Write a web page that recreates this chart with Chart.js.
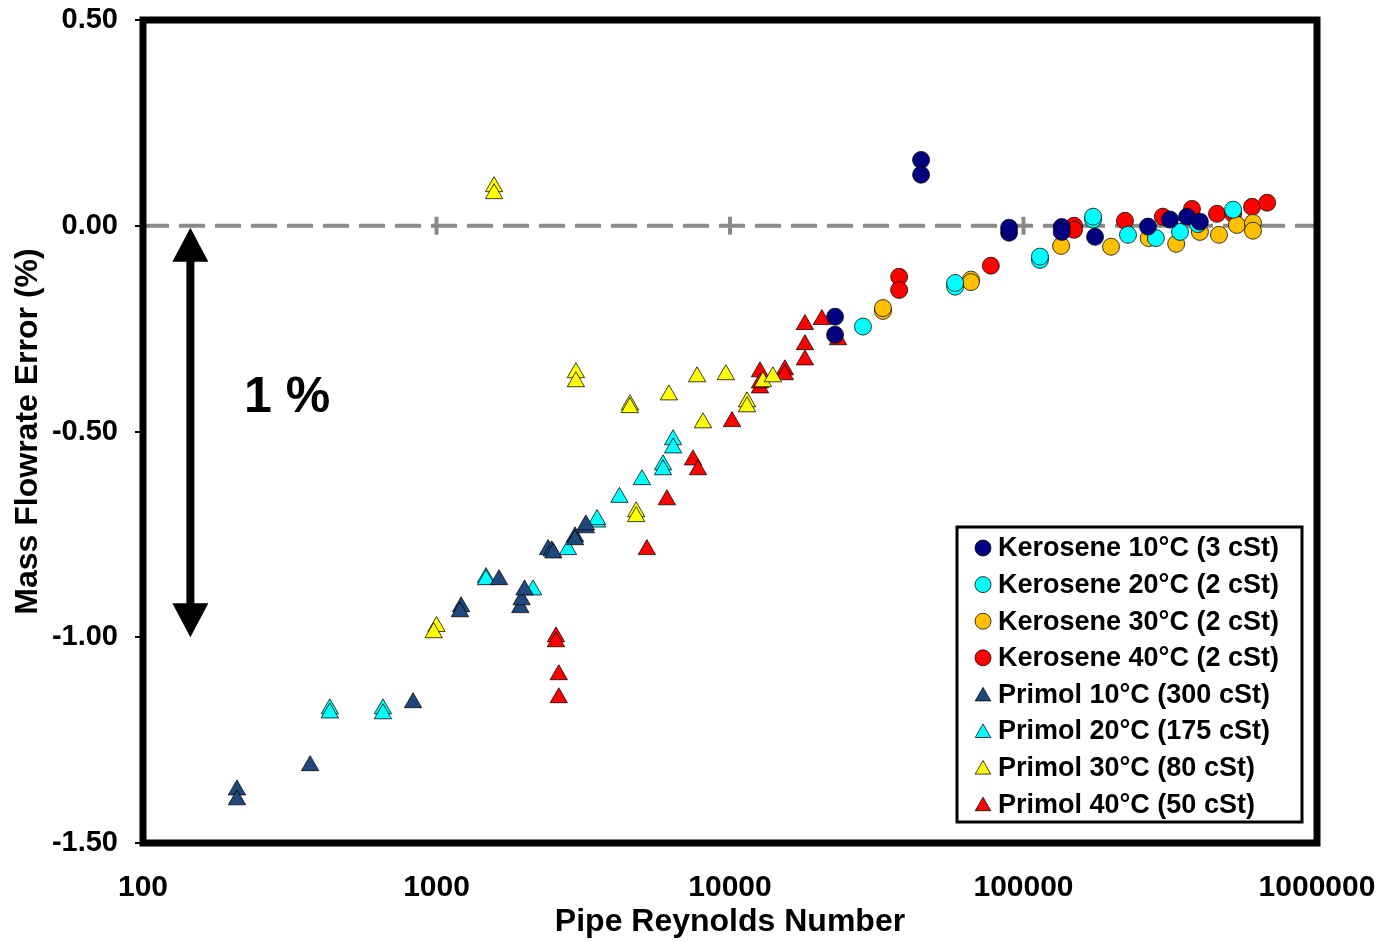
<!DOCTYPE html>
<html>
<head>
<meta charset="utf-8">
<script src="https://cdn.jsdelivr.net/npm/chart.js@4.4.0/dist/chart.umd.min.js"></script>
<style>
  html, body { margin: 0; padding: 0; background: #fff; }
</style>
</head>
<body>
<canvas id="flowChart" width="1382" height="942"></canvas>
<script>
// Pipe Reynolds number (x) and mass flowrate error in % (y)
const ker10Re  = [22800, 22800, 44770, 44770, 89300, 89300, 135000, 135000, 175300, 265500, 315500, 360600, 399000];
const ker10Err = [-0.221, -0.265, 0.160, 0.124, -0.017, -0.005, -0.003, -0.015, -0.027, -0.002, 0.015, 0.022, 0.010];

const ker20Re  = [28380, 58480, 58480, 113800, 113800, 172600, 172600, 227000, 282500, 341400, 392800, 517700];
const ker20Err = [-0.245, -0.148, -0.139, -0.083, -0.075, 0.015, 0.022, -0.022, -0.030, -0.015, 0.004, 0.039];

const ker30Re  = [33200, 33200, 66200, 66200, 134300, 198700, 267000, 331300, 399000, 463500, 533300, 605000, 605000];
const ker30Err = [-0.207, -0.200, -0.131, -0.137, -0.049, -0.051, -0.030, -0.044, -0.015, -0.022, 0.002, 0.007, -0.012];

const ker40Re  = [37700, 37700, 77400, 148600, 148600, 221600, 298300, 375000, 456300, 517700, 600800, 676500];
const ker40Err = [-0.124, -0.156, -0.097, 0.000, -0.010, 0.012, 0.022, 0.041, 0.029, 0.029, 0.046, 0.056];

const pri10Re  = [209, 209, 371, 832, 1213, 1202, 1633, 1930, 1950, 1995, 2400, 2470, 2500, 2965, 2965, 3228, 3228];
const pri10Err = [-1.371, -1.395, -1.312, -1.159, -0.926, -0.938, -0.860, -0.928, -0.909, -0.885, -0.787, -0.790, -0.795, -0.756, -0.763, -0.734, -0.727];

const pri20Re  = [433, 433, 657, 657, 1475, 1475, 2133, 2806, 3524, 3524, 4200, 5012, 5914, 5914, 6400, 6400];
const pri20Err = [-1.174, -1.184, -1.174, -1.186, -0.855, -0.860, -0.885, -0.787, -0.720, -0.714, -0.660, -0.617, -0.581, -0.593, -0.520, -0.540];

const pri30Re  = [1571, 1571, 1000, 978, 2985, 2985, 4560, 4560, 4790, 4790, 6190, 7725, 8090, 9680, 11430, 11430, 12950, 14000];
const pri30Err = [0.095, 0.078, -0.974, -0.989, -0.357, -0.379, -0.435, -0.442, -0.695, -0.707, -0.411, -0.367, -0.479, -0.362, -0.428, -0.440, -0.379, -0.367];

const pri40Re  = [2553, 2553, 2610, 2610, 5210, 6095, 7480, 7780, 10160, 12650, 12650, 12650, 15380, 15380, 18000, 18000, 18000, 20560, 23340];
const pri40Err = [-0.999, -1.011, -1.091, -1.147, -0.787, -0.666, -0.569, -0.593, -0.476, -0.355, -0.394, -0.382, -0.350, -0.362, -0.326, -0.289, -0.240, -0.228, -0.277];

const xTicks = [100, 1000, 10000, 100000, 1000000];
const yTicks = [0.5, 0, -0.5, -1, -1.5];

const FONT = '"Liberation Sans", Arial, sans-serif';

function pts(xs, ys) {
  return xs.map((v, i) => ({ x: v, y: ys[i] }));
}

function series(label, xs, ys, color, style) {
  return {
    label: label,
    data: pts(xs, ys),
    pointStyle: style,
    pointRadius: style === "triangle" ? 10 : 8.5,
    pointBackgroundColor: color,
    pointBorderColor: "rgba(0,0,0,0.75)",
    pointBorderWidth: 1,
    showLine: false,
  };
}

// dashed zero line, decade marks, frame, arrow, "1 %" and the boxed legend
const overlay = {
  id: "overlay",
  beforeDatasetsDraw(chart) {
    const { ctx, chartArea: a, scales: { x, y } } = chart;
    const y0 = y.getPixelForValue(0);
    ctx.save();
    ctx.strokeStyle = "#8a8a8a";
    ctx.lineWidth = 4;
    ctx.setLineDash([26, 10]);
    ctx.beginPath();
    ctx.moveTo(a.left, y0);
    ctx.lineTo(a.right, y0);
    ctx.stroke();
    ctx.setLineDash([]);
    xTicks.forEach((v) => {
      const px = x.getPixelForValue(v);
      ctx.beginPath();
      ctx.moveTo(px, y0 - 9);
      ctx.lineTo(px, y0 + 9);
      ctx.stroke();
    });
    ctx.restore();
  },
  afterDatasetsDraw(chart) {
    const { ctx, chartArea: a, scales: { x, y } } = chart;
    ctx.save();

    // frame
    ctx.strokeStyle = "#000";
    ctx.lineWidth = 7;
    ctx.strokeRect(a.left, a.top, a.right - a.left, a.bottom - a.top);

    // double arrow spanning 0 to -1 %
    const ax = x.getPixelForValue(145);
    const top = y.getPixelForValue(0) + 2;
    const bot = y.getPixelForValue(-1);
    const hh = 34, hw = 18, sw = 4;
    ctx.fillStyle = "#000";
    ctx.beginPath();
    ctx.moveTo(ax, top);
    ctx.lineTo(ax + hw, top + hh);
    ctx.lineTo(ax + sw, top + hh);
    ctx.lineTo(ax + sw, bot - hh);
    ctx.lineTo(ax + hw, bot - hh);
    ctx.lineTo(ax, bot);
    ctx.lineTo(ax - hw, bot - hh);
    ctx.lineTo(ax - sw, bot - hh);
    ctx.lineTo(ax - sw, top + hh);
    ctx.lineTo(ax - hw, top + hh);
    ctx.closePath();
    ctx.fill();

    ctx.font = "bold 50px " + FONT;
    ctx.textBaseline = "middle";
    ctx.textAlign = "left";
    ctx.fillText("1 %", 244, 398);

    // legend box
    const bx = 957, by = 527, bw = 345, bh = 295;
    ctx.fillStyle = "#fff";
    ctx.fillRect(bx, by, bw, bh);
    ctx.lineWidth = 3;
    ctx.strokeRect(bx, by, bw, bh);
    ctx.font = "bold 27px " + FONT;
    chart.data.datasets.forEach((ds, i) => {
      const ry = 548 + i * 36.6;
      ctx.fillStyle = ds.pointBackgroundColor;
      ctx.strokeStyle = "rgba(0,0,0,0.75)";
      ctx.lineWidth = 1;
      Chart.helpers.drawPoint(ctx, {
        pointStyle: ds.pointStyle,
        radius: ds.pointStyle === "triangle" ? 9 : 8,
        rotation: 0,
        borderWidth: 1,
      }, 983, ry + (ds.pointStyle === "triangle" ? 2 : 0));
      ctx.fillStyle = "#000";
      ctx.fillText(ds.label, 998, ry + 1);
    });
    ctx.restore();
  },
};

const ctx = document.getElementById("flowChart").getContext("2d");

const flowChart = new Chart(ctx, {
  type: "scatter",
  data: {
    datasets: [
      series("Kerosene 10°C (3 cSt)", ker10Re, ker10Err, "#000080", "circle"),
      series("Kerosene 20°C (2 cSt)", ker20Re, ker20Err, "#00FFFF", "circle"),
      series("Kerosene 30°C (2 cSt)", ker30Re, ker30Err, "#FFC000", "circle"),
      series("Kerosene 40°C (2 cSt)", ker40Re, ker40Err, "#FF0000", "circle"),
      series("Primol 10°C (300 cSt)", pri10Re, pri10Err, "#1F497D", "triangle"),
      series("Primol 20°C (175 cSt)", pri20Re, pri20Err, "#00FFFF", "triangle"),
      series("Primol 30°C (80 cSt)", pri30Re, pri30Err, "#FFFF00", "triangle"),
      series("Primol 40°C (50 cSt)", pri40Re, pri40Err, "#FF0000", "triangle"),
    ],
  },
  options: {
    responsive: false,
    animation: false,
    layout: { padding: { left: 0, right: 65, top: 20, bottom: 0 } },
    plugins: {
      legend: { display: false },
      tooltip: { enabled: false },
    },
    scales: {
      x: {
        type: "logarithmic",
        min: 100,
        max: 1000000,
        afterBuildTicks: (scale) => {
          scale.ticks = xTicks.map((v) => ({ value: v }));
        },
        afterFit: (scale) => {
          scale.height = 99;
          scale.paddingLeft = 0;
          scale.paddingRight = 0;
        },
        grid: { display: false, drawTicks: false },
        border: { display: false },
        ticks: {
          autoSkip: false,
          maxRotation: 0,
          padding: 27,
          color: "#000",
          font: { family: FONT, size: 30, weight: "bold" },
          callback: (v) => String(v),
        },
        title: {
          display: true,
          text: "Pipe Reynolds Number",
          color: "#000",
          padding: { top: 0, bottom: 1 },
          font: { family: FONT, size: 32, weight: "bold" },
        },
      },
      y: {
        min: -1.5,
        max: 0.5,
        afterBuildTicks: (scale) => {
          scale.ticks = yTicks.map((v) => ({ value: v }));
        },
        afterFit: (scale) => {
          scale.width = 143;
          scale.paddingTop = 0;
          scale.paddingBottom = 0;
        },
        grid: {
          display: true,
          drawOnChartArea: false,
          drawTicks: true,
          tickLength: 8,
          color: "#000",
          lineWidth: 2,
        },
        border: { display: false },
        ticks: {
          padding: 17,
          color: "#000",
          font: { family: FONT, size: 29, weight: "bold" },
          callback: (v) => Number(v).toFixed(2),
        },
        title: {
          display: true,
          text: "Mass Flowrate Error (%)",
          color: "#000",
          padding: { top: 9, bottom: 0 },
          font: { family: FONT, size: 32, weight: "bold" },
        },
      },
    },
  },
  plugins: [overlay],
});
</script>
</body>
</html>
